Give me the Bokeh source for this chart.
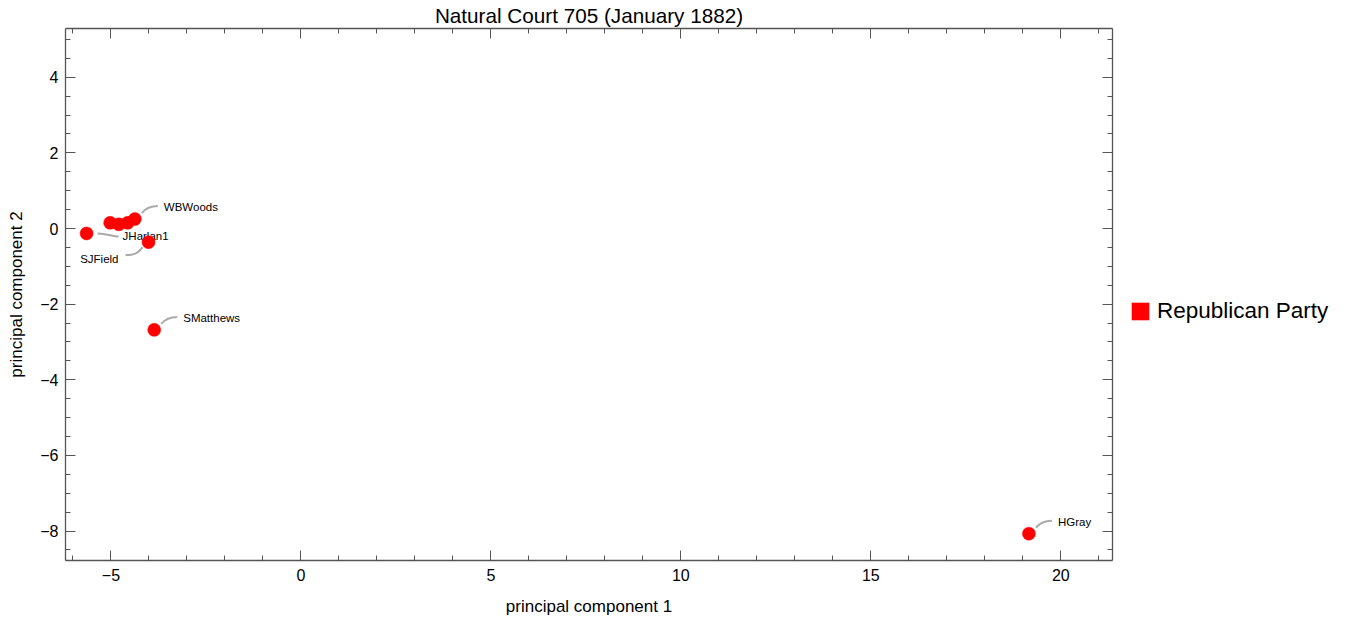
from bokeh.plotting import figure
from bokeh.layouts import row
from bokeh.models import (Range1d, SingleIntervalTicker, LinearAxis, Legend,
                          LegendItem, LabelSet, ColumnDataSource)
from bokeh.core.properties import value
from bokeh.embed import file_html
from bokeh.resources import INLINE

# ---------------- data ----------------
title = "Natural Court 705 (January 1882)"
party = "Republican Party"
x_label = "principal component 1"
y_label = "principal component 2"
justices = ["JHarlan1", "MRWaite", "SFMiller", "JPBradley", "WBWoods",
            "SJField", "SMatthews", "HGray"]
pc1 = [-5.64, -5.02, -4.79, -4.56, -4.37, -4.01, -3.86, 19.16]
pc2 = [-0.13, 0.15, 0.11, 0.15, 0.25, -0.36, -2.68, -8.07]
show_label = [True, False, False, False, True, True, True, True]
x_ticks = [-5, 0, 5, 10, 15, 20]
y_ticks = [-8, -6, -4, -2, 0, 2, 4]

# ---------------- layout / style ----------------
FONT = "Liberation Sans"
X0, X1 = -6.195, 21.36
Y0, Y1 = -8.78, 5.29
TOTAL_W, FIG_H = 1352, 628
FRAME_W, FRAME_H = 1047, 533
B_LEFT, B_TOP, B_RIGHT = 65, 27, 2
B_BOTTOM = FIG_H - B_TOP - FRAME_H
FIG_W = B_LEFT + FRAME_W + B_RIGHT
LEG_W = TOTAL_W - FIG_W
PPX = FRAME_W / (X1 - X0)
PPY = FRAME_H / (Y1 - Y0)
RED = "#ff0000"
LEADER = "#aaaaaa"
AXIS_GREY = "#555555"

# label placement in pixels (dx right, dy down):
# leader start, control 1, control 2, leader end, text anchor, text align
PLACEMENTS = {
    "upper_right": ((7, -6), (11, -11), (15, -13), (23, -13), (29, -12), "left"),
    "right": ((11, 0), (20, 0), (26, 3), (32, 3), (36, 3), "left"),
    "lower_left": ((-6, 5), (-10, 11), (-14, 13), (-23, 13), (-30, 17), "right"),
}
placement_of = {"JHarlan1": "right", "SJField": "lower_left"}


def dx(px):
    return px / PPX


def dy(px):
    return -px / PPY


p = figure(width=FIG_W, height=FIG_H, output_backend="svg", toolbar_location=None,
           x_range=Range1d(X0, X1), y_range=Range1d(Y0, Y1),
           min_border_left=B_LEFT, min_border_right=B_RIGHT,
           min_border_top=B_TOP, min_border_bottom=B_BOTTOM,
           x_axis_label=x_label, y_axis_label=y_label)
p.grid.visible = False
p.outline_line_color = None
p.background_fill_color = "white"
p.border_fill_color = "white"

p.title.text = title
p.title.align = "center"
p.title.text_font = FONT
p.title.text_font_size = "20.7px"
p.title.text_font_style = "normal"
p.title.text_color = "black"
p.title.standoff = 3
p.title.offset = 0


def minus(v):
    return ("\u2212" + str(abs(v))) if v < 0 else str(v)


def style_axis(ax, labels=True):
    ax.axis_line_color = AXIS_GREY
    ax.axis_line_width = 1.3
    ax.major_tick_line_color = AXIS_GREY
    ax.minor_tick_line_color = AXIS_GREY
    ax.major_tick_in = 10
    ax.major_tick_out = 0
    ax.minor_tick_in = 5
    ax.minor_tick_out = 0
    ax.major_label_text_font = FONT
    ax.axis_label_text_font = FONT
    ax.axis_label_text_font_style = "normal"
    ax.axis_label_text_font_size = "17px"
    ax.major_label_text_color = "black"
    ax.axis_label_text_color = "black"
    if labels:
        ax.major_label_text_font_size = "16px"
    else:
        ax.major_label_text_font_size = "1px"
        ax.major_label_text_color = None
        ax.major_label_standoff = 0


xa = p.xaxis[0]
ya = p.yaxis[0]
xa.ticker = SingleIntervalTicker(interval=5, num_minor_ticks=5)
ya.ticker = SingleIntervalTicker(interval=2, num_minor_ticks=4)
xa.major_label_overrides = {v: minus(v) for v in x_ticks}
ya.major_label_overrides = {v: minus(v) for v in y_ticks}
style_axis(xa)
style_axis(ya)
xa.major_label_standoff = 8
xa.axis_label_standoff = 13
ya.major_label_standoff = 7
ya.axis_label_standoff = 11

top_ax = LinearAxis(ticker=SingleIntervalTicker(interval=5, num_minor_ticks=5))
style_axis(top_ax, labels=False)
p.add_layout(top_ax, "above")
right_ax = LinearAxis(ticker=SingleIntervalTicker(interval=2, num_minor_ticks=4))
style_axis(right_ax, labels=False)
p.add_layout(right_ax, "right")

# points: unlabeled ones below the label boxes, labeled ones on top
under = dict(x=[], y=[])
over = dict(x=[], y=[])
for x, y, show in zip(pc1, pc2, show_label):
    tgt = over if show else under
    tgt["x"].append(x)
    tgt["y"].append(y)
p.scatter("x", "y", source=ColumnDataSource(under), size=13,
          fill_color=RED, line_color=RED, line_width=0.5)

# leader lines and labels
bz = dict(x0=[], y0=[], x1=[], y1=[], cx0=[], cy0=[], cx1=[], cy1=[])
lab = {"left": dict(x=[], y=[], t=[]), "right": dict(x=[], y=[], t=[])}
for name, x, y, show in zip(justices, pc1, pc2, show_label):
    if not show:
        continue
    s, c0, c1, e, t, align = PLACEMENTS[placement_of.get(name, "upper_right")]
    bz["x0"].append(x + dx(s[0])); bz["y0"].append(y + dy(s[1]))
    bz["cx0"].append(x + dx(c0[0])); bz["cy0"].append(y + dy(c0[1]))
    bz["cx1"].append(x + dx(c1[0])); bz["cy1"].append(y + dy(c1[1]))
    bz["x1"].append(x + dx(e[0])); bz["y1"].append(y + dy(e[1]))
    lab[align]["x"].append(x + dx(t[0]))
    lab[align]["y"].append(y + dy(t[1]))
    lab[align]["t"].append(name)

p.bezier(x0="x0", y0="y0", x1="x1", y1="y1", cx0="cx0", cy0="cy0",
         cx1="cx1", cy1="cy1", source=ColumnDataSource(bz),
         line_color=LEADER, line_width=2)

extra = {"padding": 6} if "padding" in LabelSet.properties() else {}
for align, d in lab.items():
    ls = LabelSet(x="x", y="y", text="t", source=ColumnDataSource(d),
                  text_align=align, text_baseline="middle",
                  text_font=value(FONT), text_font_size="11.5px", text_color="black",
                  background_fill_color="white", background_fill_alpha=0.65, **extra)
    p.add_layout(ls)

p.scatter("x", "y", source=ColumnDataSource(over), size=13, level="overlay",
          fill_color=RED, line_color=RED, line_width=0.5)

# legend panel to the right of the plot
leg = figure(width=LEG_W, height=FIG_H, output_backend="svg", toolbar_location=None,
             x_range=Range1d(0, 1), y_range=Range1d(0, 1), min_border=0,
             x_axis_location=None, y_axis_location=None)
leg.grid.visible = False
leg.outline_line_color = None
leg.background_fill_color = "white"
leg.border_fill_color = "white"
swatch = leg.rect(x=pc1, y=pc2, width=0, height=0, fill_color=RED, line_color=None)
legend = Legend(items=[LegendItem(label=party, renderers=[swatch])],
                location=(15, 236), glyph_width=22, glyph_height=22,
                label_standoff=6, label_text_font=FONT, label_text_font_size="22.5px",
                label_text_color="black", border_line_color=None,
                background_fill_alpha=0, padding=10, margin=0)
leg.add_layout(legend)

layout = row(p, leg, spacing=0)
open("out.html", "w").write(file_html(layout, INLINE))
